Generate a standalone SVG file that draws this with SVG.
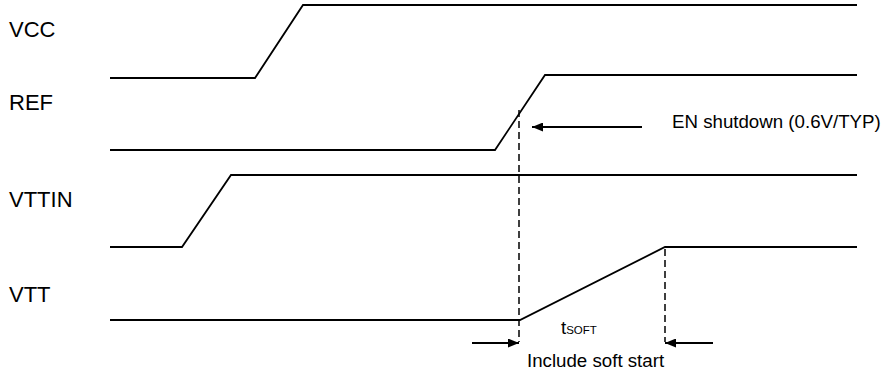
<svg xmlns="http://www.w3.org/2000/svg" width="883" height="376" viewBox="0 0 883 376">
<defs>
<marker id="ah" markerWidth="11" markerHeight="9" refX="11" refY="4.5" orient="auto" markerUnits="userSpaceOnUse">
<path d="M0,0 L11,4.5 L0,9 Z" fill="#000"/>
</marker>
<style>
.sig{fill:none;stroke:#000;stroke-width:1.8}
.dash{fill:none;stroke:#000;stroke-width:1.5;stroke-dasharray:7 4}
.arr{fill:none;stroke:#000;stroke-width:2.2}
.lbl{font-family:"Liberation Sans",Arial,sans-serif;font-size:22px;fill:#000}
.txt{font-family:"Liberation Sans",Arial,sans-serif;font-size:18.7px;fill:#000}
</style>
</defs>
<rect width="883" height="376" fill="#fff"/>
<g id="VCC">
<text class="lbl" x="9" y="37">VCC</text>
<polyline class="sig" points="110,78 255,78 303,5 857,5"/>
</g>
<g id="REF">
<text class="lbl" x="9" y="110">REF</text>
<polyline class="sig" points="110,150 495,150 545,75 857,75"/>
</g>
<g id="VTTIN">
<text class="lbl" x="9" y="207">VTTIN</text>
<polyline class="sig" points="110,247 182,247 231,175 857,175"/>
</g>
<g id="VTT">
<text class="lbl" x="9" y="302">VTT</text>
<polyline class="sig" points="110,320 520,320 665,247 857,247"/>
</g>
<g id="connectors">
<line class="dash" x1="519" y1="110" x2="519" y2="342"/>
<line class="dash" x1="665" y1="249" x2="665" y2="342"/>
<line class="arr" x1="642" y1="127" x2="532" y2="127" marker-end="url(#ah)"/>
<line class="arr" x1="472" y1="343" x2="519" y2="343" marker-end="url(#ah)"/>
<line class="arr" x1="713" y1="343" x2="665" y2="343" marker-end="url(#ah)"/>
</g>
<g id="labels">
<text class="txt" x="672" y="128">EN shutdown (0.6V/TYP)</text>
<text class="txt" x="561" y="334" font-size="17px">t<tspan font-size="11.5px">SOFT</tspan></text>
<text class="txt" x="527" y="367">Include soft start</text>
</g>
</svg>
